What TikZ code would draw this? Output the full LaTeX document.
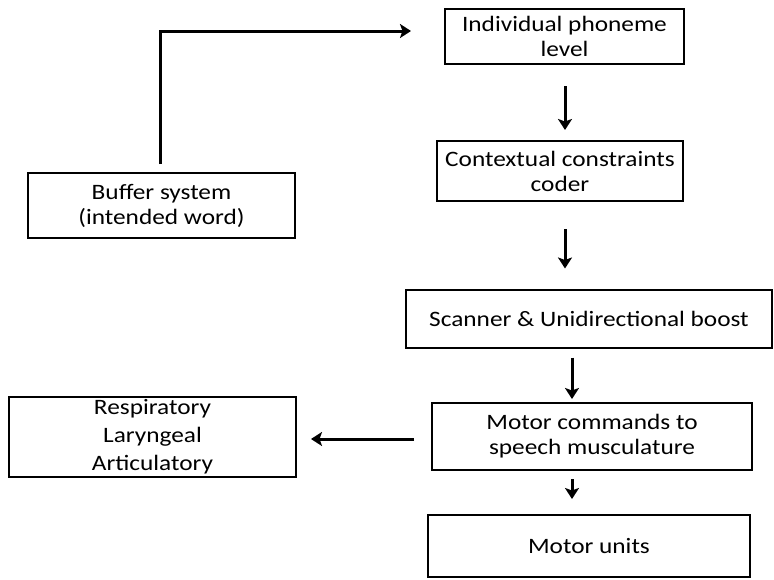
\documentclass[tikz,border=0pt]{standalone}
\usepackage{fontspec}
\setmainfont{Carlito}[FakeStretch=1.15]
\usetikzlibrary{arrows.meta}
\begin{document}
\begin{tikzpicture}[x=1pt,y=-1pt,
  box/.style={draw=black,line width=2pt,align=center,inner sep=0pt,
    font=\fontsize{22}{25}\selectfont},
  arr/.style={line width=3pt,-{Stealth[length=11pt,width=14pt,inset=2.5pt]}}]
\useasboundingbox (0,0) rectangle (774,579);
\node[box,minimum width=239pt,minimum height=55pt] (phon) at (564.5,36.5) {Individual phoneme\\level};
\node[box,minimum width=246pt,minimum height=60pt] (ctx) at (560,171) {Contextual constraints\\coder};
\node[box,minimum width=267pt,minimum height=65pt] (buf) at (161.5,205.5) {Buffer system\\(intended word)};
\node[box,minimum width=366pt,minimum height=58pt] (scan) at (589,318.5) {Scanner \& Unidirectional boost};
\node[box,minimum width=320pt,minimum height=67pt] (motor) at (592,436.5) {Motor commands to\\speech musculature};
\node[box,minimum width=287pt,minimum height=80pt,font=\fontsize{22}{28}\selectfont] (resp) at (152.5,437) {Respiratory\\Laryngeal\\Articulatory};
\node[box,minimum width=322pt,minimum height=62pt] (units) at (589,546) {Motor units};
\coordinate (bufTop) at ([xshift=-1.5pt,yshift=8pt]buf.north);
\coordinate (phonIn) at ([xshift=-33pt,yshift=5.5pt]phon.west);
\draw[arr] (bufTop) |- (phonIn);
\draw[arr] ([xshift=0.5pt,yshift=-21pt]phon.south) -- ([xshift=5pt,yshift=10pt]ctx.north);
\draw[arr] ([xshift=5pt,yshift=-27pt]ctx.south) -- ([xshift=-24pt,yshift=20pt]scan.north);
\draw[arr] ([xshift=-17pt,yshift=-9pt]scan.south) -- ([xshift=-20pt,yshift=3pt]motor.north);
\draw[arr] ([xshift=-17pt,yshift=-2.5pt]motor.west) -- ([xshift=14pt,yshift=-2pt]resp.east);
\draw[arr] ([xshift=-20pt,yshift=-8pt]motor.south) -- ([xshift=-17pt,yshift=15pt]units.north);
\end{tikzpicture}
\end{document}
